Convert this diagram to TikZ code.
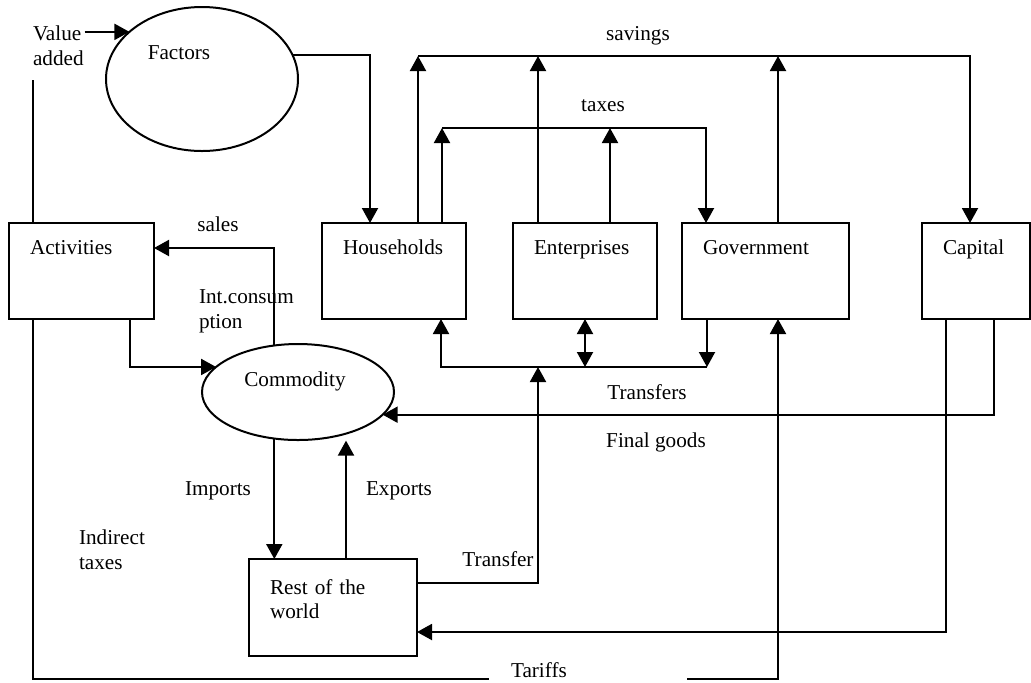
\documentclass[tikz,border=0pt]{standalone}
\usepackage{fontspec}
\setmainfont{Liberation Serif}
\usetikzlibrary{arrows.meta,shapes.geometric,positioning}
\tikzset{%
  >={Triangle[length=7.5pt,width=8pt]},
  % Specifications for style of nodes:
      account/.style = {rectangle, draw=black, line width=1pt, outer sep=0pt,
                        inner xsep=10.5pt, inner ysep=0pt, align=left,
                        text height=15.5pt, text depth=32.5pt},
       market/.style = {ellipse, draw=black, line width=1pt, outer sep=0pt,
                        inner sep=0pt, minimum width=96pt},
    flowlabel/.style = {inner sep=0pt, align=left, text height=7pt, text depth=0pt},
   multilabel/.style = {inner sep=0pt, align=left, anchor=north west},
}
\begin{document}
\begin{tikzpicture}[x=0.5pt, y=-0.5pt, line width=1pt,
                    font=\fontsize{10.6}{12.2}\selectfont]
  \useasboundingbox (0,0) rectangle (1031,682);
  % accounts
  \node (act) [account, text width=51.5pt, anchor=north west] at (9,223) {Activities};
  \node (hh)  [account, text width=51pt, right=84pt of act]     {Households};
  \node (ent) [account, text width=51pt, right=23.5pt of hh]    {Enterprises};
  \node (gov) [account, text width=62.5pt, right=12.5pt of ent] {Government};
  \node (cap) [account, text width=33pt, right=36.5pt of gov]   {Capital};
  \node (row) [account, text width=63pt, text height=17.5pt, text depth=31pt,
               anchor=north west] at (249,559) {Rest of the\\world};
  \node (factors) [market, minimum height=72pt] at (202,79)  {};
  \node (comm)    [market, minimum height=48pt] at (298,392) {};
  \node (factorsTxt) [flowlabel] at ([xshift=-11.5pt, yshift=13.5pt]factors.center) {Factors};
  \node (commTxt)    [flowlabel] at ([xshift=-1.5pt, yshift=6.5pt]comm.center)       {Commodity};

  % flow labels
  \node (va)      [multilabel] at (32,25)   {Value\\added};
  \node (icons)   [multilabel] at (198,289) {Int.consum\\ption};
  \node (indtax)  [multilabel] at (78,529)  {Indirect\\taxes};
  \node (savLbl)  [flowlabel] at (638,33)   {savings};
  \node (taxLbl)  [flowlabel] at (603,104)  {taxes};
  \node (salesLbl)[flowlabel] at (218,224)  {sales};
  \node (trsLbl)  [flowlabel] at (647,392)  {Transfers};
  \node (fgLbl)   [flowlabel] at (656,440)  {Final goods};
  \node (impLbl)  [flowlabel] at (218,488)  {Imports};
  \node (expLbl)  [flowlabel] at (399,488)  {Exports};
  \node (trLbl)   [flowlabel] at (498,559)  {Transfer};
  \node (tar)     [flowlabel, inner xsep=10.5pt, text width=77pt,
                   anchor=base west] at (489,677) {Tariffs};

  \coordinate (vaFoot) at (33,80);
  \coordinate (savL)   at (418,56);
  \coordinate (taxL)   at (442,128);
  \coordinate (trR)    at (707,367);
  \coordinate (trX)    at (538,367);

  % value added
  \draw[->] (factors.147 -| va.east) -- (factors.147);
  \draw ([xshift=12pt]act.north west) -- (vaFoot);
  \draw[->] (factors.15) -| ([xshift=24pt]hh.north west);
  % savings
  \draw[->] ([xshift=48pt]hh.north west) -- (savL);
  \draw[->] (savL) -| ([xshift=24pt]cap.north west);
  \draw[->] ([xshift=12.5pt]ent.north west) -- ([xshift=12.5pt]ent.north west |- savL);
  \draw[->] ([xshift=48pt]gov.north west) -- ([xshift=48pt]gov.north west |- savL);
  % taxes
  \draw[->] ([xshift=60pt]hh.north west) -- (taxL);
  \draw[->] (taxL) -| ([xshift=12pt]gov.north west);
  \draw[->] ([xshift=48.5pt]ent.north west) -- ([xshift=48.5pt]ent.north west |- taxL);
  % transfers
  \draw[->] ([xshift=12.5pt]gov.south west) -- (trR);
  \draw[->] (trR) -| ([xshift=59.5pt]hh.south west);
  \draw[<->] (ent.south) -- (ent.south |- trR);
  \draw[->] ([yshift=-12pt]row.north east) -| (trX);
  % commodity market
  \draw[->] (comm.117) |- ([yshift=-12.5pt]act.north east);
  \draw[->] ([xshift=60.5pt]act.south west) |- (comm.163);
  \draw[->] ([xshift=36pt]cap.south west) |- (comm.345);
  \draw[->] ([xshift=12pt]cap.south west) |- ([yshift=-36.5pt]row.north east);
  \draw[->] (comm.243) -- (comm.243 |- row.north);
  \draw[->, shorten >=3.5pt] ([xshift=48.5pt]row.north west) -- ([xshift=48.5pt]row.north west |- comm.319);
  % tariffs
  \draw ([xshift=12pt]act.south west) |- ([yshift=-1pt]tar.base west);
  \draw[->] ([yshift=-1pt]tar.base east) -| ([xshift=48pt]gov.south west);
\end{tikzpicture}
\end{document}
